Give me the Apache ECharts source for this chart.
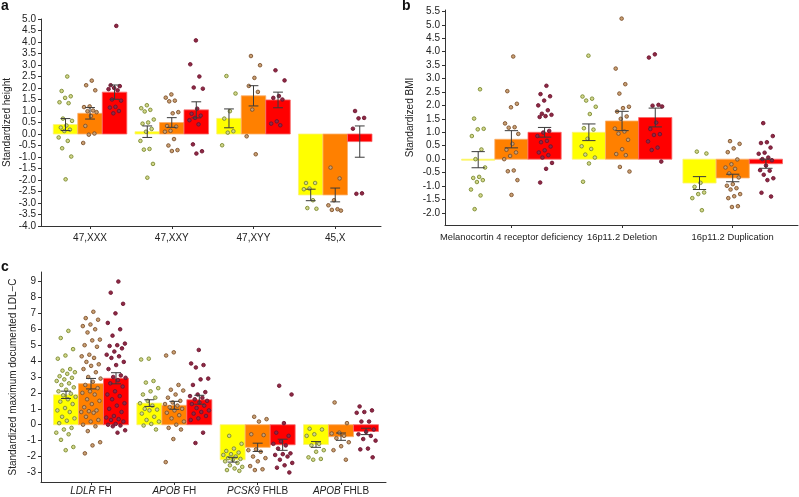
<!DOCTYPE html>
<html>
<head>
<meta charset="utf-8">
<script src="https://cdn.jsdelivr.net/npm/echarts@6/dist/echarts.min.js"></script>
<style>
  html, body { margin: 0; padding: 0; background: #fff; }
  #main { width: 799px; height: 497px; }
</style>
</head>
<body>
<div id="main"></div>
<script>
// ---- panel a : standardized height ----
var catsA = ['47,XXX', '47,XXY', '47,XYY', '45,X'];
var meanA_y = [0.41, 0.1, 0.68, -2.65];
var meanA_o = [0.9, 0.5, 1.66, -2.65];
var meanA_r = [1.82, 1.05, 1.48, -0.33];
var seA_y = [0.26, 0.25, 0.41, 0.25];
var seA_o = [0.25, 0.21, 0.44, 0.3];
var seA_r = [0.31, 0.35, 0.34, 0.68];
var ptsA_y = [
  [2.5, 1.87, 1.64, 1.57, 1.38, 1.34, 0.67, 0.57, 0.37, 0.28, 0.19, 0.13, -0.15, -0.3, -0.62, -0.98, -1.97],
  [1.25, 1.12, 1.05, 0.98, 0.63, 0.5, 0.45, 0.22, 0.1, -0.3, -0.65, -0.68, -1.3, -1.9],
  [2.52, 1.76, 0.99, 0.67, 0.12, 0.06, -0.49],
  [-2.13, -2.13, -2.37, -2.4, -2.88, -3.22, -3.25]
];
var ptsA_o = [
  [2.32, 2.12, 1.9, 1.2, 1.17, 1.02, 0.99, 0.95, 0.78, 0.35, 0.02, -0.03, -0.39],
  [1.72, 1.58, 1.45, 1.42, 0.95, 0.9, 0.35, 0.32, 0.14, 0.1, -0.22, -0.5, -0.7, -0.74],
  [3.39, 2.99, 2.44, 2.09, 1.83, 1.06, -0.1, -0.88],
  [-1.46, -1.93, -2.88, -3.1, -3.27, -3.3, -3.33]
];
var ptsA_r = [
  [4.7, 2.12, 2.08, 2.0, 1.95, 1.9, 1.5, 1.45, 1.18, 1.15, 1.0, 0.9],
  [4.07, 3.03, 2.5, 2.02, 1.97, 1.1, 0.88, 0.8, 0.7, 0.6, 0.42, -0.45, -0.75, -0.85],
  [2.77, 2.33, 1.65, 1.57, 1.5, 0.55, 0.45, 0.38],
  [1.0, 0.7, 0.68, 0.23, -2.58, -2.6]
];
var yTicksA = [-4.0, -3.5, -3.0, -2.5, -2.0, -1.5, -1.0, -0.5, 0.0, 0.5, 1.0, 1.5, 2.0, 2.5, 3.0, 3.5, 4.0, 4.5, 5.0];

// ---- panel b : standardized BMI ----
var catsB = ['Melanocortin 4 receptor deficiency', '16p11.2 Deletion', '16p11.2 Duplication'];
var meanB_y = [-0.02, 1.0, -0.89];
var meanB_o = [0.74, 1.42, -0.7];
var meanB_r = [1.0, 1.55, -0.17];
var seB_y = [0.3, 0.31, 0.24];
var seB_o = [0.32, 0.36, 0.14];
var seB_r = [0.18, 0.35, 0.17];
var ptsB_y = [
  [2.6, 1.51, 1.13, 1.11, 0.86, 0.36, 0.0, -0.31, -0.66, -0.7, -0.78, -0.85, -1.13, -1.35, -1.86],
  [3.85, 2.33, 2.25, 2.18, 1.95, 1.68, 1.15, 1.1, 0.76, 0.48, 0.38, 0.17, 0.06, -0.16, -0.84],
  [0.28, 0.21, -0.88, -1.03, -1.24, -1.3, -1.45, -1.9]
];
var ptsB_o = [
  [3.82, 2.53, 2.06, 1.93, 1.33, 1.19, 1.17, 0.94, 0.57, 0.35, 0.25, 0.12, 0.0, -0.42, -0.45, -0.78, -1.33],
  [5.23, 3.37, 2.79, 2.44, 1.95, 1.9, 1.77, 1.59, 1.5, 1.14, 1.03, 0.95, 0.72, 0.37, 0.19, 0.15, -0.29, -0.46],
  [0.67, 0.57, 0.4, 0.26, -0.01, -0.19, -0.31, -0.36, -0.53, -0.68, -0.93, -0.99, -1.08, -1.13, -1.3, -1.38, -1.45, -1.75, -1.78]
];
var ptsB_r = [
  [2.73, 2.42, 2.34, 2.18, 2.0, 1.82, 1.69, 1.65, 1.6, 1.57, 1.05, 0.99, 0.86, 0.68, 0.63, 0.47, 0.33, 0.25, 0.15, 0.06, -0.14, -0.36, -0.87],
  [3.9, 3.78, 2.02, 1.99, 1.96, 1.36, 1.12, 0.93, 0.9, 0.66, 0.43, 0.34, -0.09],
  [1.34, 0.86, 0.63, 0.6, 0.43, 0.24, 0.2, 0.06, 0.0, -0.04, -0.24, -0.41, -0.43, -0.58, -0.71, -0.78, -1.25, -1.39]
];
var yTicksB = [-2.0, -1.5, -1.0, -0.5, 0.0, 0.5, 1.0, 1.5, 2.0, 2.5, 3.0, 3.5, 4.0, 4.5, 5.0, 5.5];

// ---- panel c : standardized max LDL-C ----
var genesC = ['LDLR', 'APOB', 'PCSK9', 'APOB'];
var typesC = ['FH', 'FH', 'FHLB', 'FHLB'];
var meanC_y = [1.88, 1.36, -2.2, -1.24];
var meanC_o = [2.58, 1.22, -1.42, -0.75];
var meanC_r = [2.92, 1.57, -1.26, -0.42];
var seC_y = [0.23, 0.21, 0.15, 0.18];
var seC_o = [0.33, 0.25, 0.26, 0.23];
var seC_r = [0.35, 0.28, 0.35, 0.2];
var ptsC_y = [
  [5.9, 5.45, 4.75, 4.35, 4.15, 3.5, 3.4, 3.3, 3.2, 3.05, 2.95, 2.85, 2.75, 2.6, 2.5, 2.35, 2.2, 2.1, 1.95, 1.85, 1.75, 1.6, 1.45, 1.3, 1.05, 0.9, 0.8, 0.5, 0.4, 0.25, 0.1, -0.2, -0.3, -0.5, -0.6, -0.95, -1.4, -1.6],
  [4.15, 4.1, 2.75, 2.65, 2.3, 2.1, 1.9, 1.7, 1.5, 1.35, 1.2, 1.0, 0.95, 0.9, 0.7, 0.5, 0.3, 0.2, 0.05, -0.05, -0.3],
  [-0.7, -1.2, -1.5, -1.65, -1.75, -1.85, -1.9, -2.0, -2.1, -2.15, -2.2, -2.3, -2.4, -2.55, -2.65, -2.75, -2.85, -2.9],
  [-0.25, -0.3, -0.6, -0.7, -1.2, -1.3, -1.6, -1.7, -2.05, -2.15, -2.2]
];
var ptsC_o = [
  [7.1, 6.7, 6.6, 6.3, 6.2, 6.0, 5.8, 5.35, 5.3, 5.0, 4.9, 4.4, 4.3, 4.2, 3.95, 3.8, 3.7, 3.5, 3.3, 3.0, 2.9, 2.7, 2.5, 2.3, 2.1, 2.0, 1.9, 1.6, 1.5, 1.3, 1.1, 0.9, 0.85, 0.8, 0.75, 0.5, 0.3, 0.2, 0.0, -0.1, -0.4, -1.1, -1.3, -1.8],
  [4.55, 4.35, 2.5, 2.2, 2.15, 1.9, 1.7, 1.5, 1.4, 1.3, 1.2, 1.1, 1.0, 0.9, 0.75, 0.6, 0.4, 0.2, 0.0, -0.2, -0.3, -0.9, -2.35],
  [0.5, 0.35, 0.2, -0.6, -0.65, -1.55, -1.6, -1.7, -2.0, -2.1, -2.3, -2.6, -2.8, -2.85],
  [1.4, 0.1, -0.5, -0.55, -0.7, -0.85, -1.1, -1.35, -1.6, -2.2]
];
var ptsC_r = [
  [9.0, 8.3, 7.6, 7.0, 6.4, 6.0, 5.6, 5.1, 5.0, 4.95, 4.8, 4.6, 4.4, 4.3, 4.2, 3.95, 3.75, 3.5, 3.1, 3.0, 2.95, 2.8, 2.6, 2.4, 2.1, 1.9, 1.8, 1.6, 1.35, 1.2, 1.0, 0.8, 0.55, 0.45, 0.35, 0.3, 0.2, 0.05, 0.0, -0.05, -0.1, -0.35, -0.5],
  [4.7, 3.85, 3.75, 3.6, 2.9, 2.85, 2.5, 2.05, 1.9, 1.8, 1.7, 1.6, 1.5, 1.4, 1.3, 1.2, 1.05, 0.9, 0.8, 0.7, 0.55, 0.4, 0.3, -0.5, -1.15],
  [2.45, 1.9, 0.1, -0.5, -0.7, -1.05, -1.2, -1.3, -1.5, -1.8, -1.85, -1.9, -2.0, -2.2, -2.4, -2.55, -2.7, -3.0],
  [1.15, 0.9, 0.8, 0.75, 0.2, 0.2, -0.3, -0.45, -0.6, -0.7, -0.9, -1.0, -1.5, -1.55, -2.05]
];
var yTicksC = [-3, -2, -1, 0, 1, 2, 3, 4, 5, 6, 7, 8, 9];

var FONT = '"Liberation Sans", Arial, Helvetica, sans-serif';
var BAR_W = 0.3;
var CAP_W = 0.12;
var barColors = ['#ffff00', '#ff8000', '#ff0000'];
var barEdges = ['#fbf27a', '#fbae6a', '#f86a6a'];
var ptFill = ['#d2d68a', '#c9a073', '#8e2a44'];
var ptEdge = ['#7b8a30', '#7e512c', '#6e1430'];

var chart = echarts.init(document.getElementById('main'));

function renderBar(params, api) {
  var g = api.value(1);
  var x = api.value(0) + (g - 1) * BAR_W;
  var p0 = api.coord([x, 0]);
  var p1 = api.coord([x, api.value(2)]);
  var w = api.size([BAR_W, 0])[0];
  var h = Math.max(Math.abs(p1[1] - p0[1]), 1);
  return {
    type: 'rect',
    shape: { x: p0[0] - w / 2, y: Math.min(p0[1], p1[1]), width: w, height: h },
    style: { fill: barColors[g], stroke: barEdges[g], lineWidth: 0.8 }
  };
}

function ln(x1, y1, x2, y2) {
  return { type: 'line', shape: { x1: x1, y1: y1, x2: x2, y2: y2 }, style: { stroke: '#3a3a3a', lineWidth: 1 } };
}

function renderErr(params, api) {
  var x = api.value(0) + (api.value(1) - 1) * BAR_W;
  var m = api.value(2), s = api.value(3);
  var hi = api.coord([x, m + s]);
  var lo = api.coord([x, m - s]);
  var cw = api.size([CAP_W, 0])[0] / 2;
  return {
    type: 'group',
    children: [
      ln(hi[0], hi[1], lo[0], lo[1]),
      ln(hi[0] - cw, hi[1], hi[0] + cw, hi[1]),
      ln(lo[0] - cw, lo[1], lo[0] + cw, lo[1])
    ]
  };
}

var series = [];
function addPanel(idx, means, ses, pts, jit) {
  var barData = [], errData = [];
  for (var g = 0; g < 3; g++) {
    for (var c = 0; c < means[g].length; c++) {
      barData.push([c + 1, g, means[g][c]]);
      errData.push([c + 1, g, means[g][c], ses[g][c]]);
    }
  }
  series.push({
    type: 'custom', xAxisIndex: idx, yAxisIndex: idx, renderItem: renderBar,
    data: barData, silent: true, z: 2
  });
  for (var g2 = 0; g2 < 3; g2++) {
    var sd = [];
    pts[g2].forEach(function (list, c) {
      list.forEach(function (v, i) {
        // deterministic horizontal spread around the bar centre
        var off = (((i + c * 3 + 1) * 0.6180339) % 1 - 0.5) * 2 * jit;
        sd.push([c + 1 + (g2 - 1) * BAR_W + off, v]);
      });
    });
    series.push({
      type: 'scatter', xAxisIndex: idx, yAxisIndex: idx, data: sd, symbol: 'circle', symbolSize: 3.6,
      itemStyle: { color: ptFill[g2], borderColor: ptEdge[g2], borderWidth: 0.9, opacity: 1 },
      silent: true, z: 3
    });
  }
  series.push({
    type: 'custom', xAxisIndex: idx, yAxisIndex: idx, renderItem: renderErr,
    data: errData, silent: true, z: 4
  });
}

addPanel(0, [meanA_y, meanA_o, meanA_r], [seA_y, seA_o, seA_r], [ptsA_y, ptsA_o, ptsA_r], 0.09);
addPanel(1, [meanB_y, meanB_o, meanB_r], [seB_y, seB_o, seB_r], [ptsB_y, ptsB_o, ptsB_r], 0.07);
addPanel(2, [meanC_y, meanC_o, meanC_r], [seC_y, seC_o, seC_r], [ptsC_y, ptsC_o, ptsC_r], 0.12);

function xAx(idx, n, max, labelFn, margin, fs) {
  var vals = [];
  for (var i = 1; i <= n; i++) vals.push(i);
  return {
    type: 'value', gridIndex: idx, min: 0.4, max: max,
    axisLine: { show: true, onZero: false, lineStyle: { color: '#333', width: 1 } },
    axisTick: { show: true, customValues: vals, length: 3, lineStyle: { color: '#333' } },
    axisLabel: {
      customValues: vals, margin: margin, color: '#222', fontSize: fs, fontFamily: FONT,
      hideOverlap: false, showMinLabel: true, showMaxLabel: true,
      formatter: labelFn,
      rich: { i: { fontStyle: 'italic', fontSize: fs, fontFamily: FONT, color: '#222' } }
    },
    splitLine: { show: false }
  };
}

function yAx(idx, min, max, ticks, name, gap, dec) {
  return {
    type: 'value', gridIndex: idx, min: min, max: max,
    name: name, nameLocation: 'middle', nameGap: gap,
    nameTextStyle: { fontSize: 10, color: '#222', fontFamily: FONT },
    axisLine: { show: true, onZero: false, lineStyle: { color: '#333', width: 1 } },
    axisTick: { show: true, customValues: ticks, length: 3, lineStyle: { color: '#333' } },
    axisLabel: {
      customValues: ticks, margin: 5, color: '#222', fontSize: 10, fontFamily: FONT,
      showMinLabel: true, showMaxLabel: true,
      formatter: function (v) { return v.toFixed(dec); }
    },
    splitLine: { show: false }
  };
}

chart.setOption({
  animation: false,
  backgroundColor: '#fff',
  title: [
    { text: 'a', left: 1, top: -1, padding: 0, textStyle: { fontSize: 14, fontWeight: 'bold', color: '#111', fontFamily: FONT } },
    { text: 'b', left: 402, top: -1, padding: 0, textStyle: { fontSize: 14, fontWeight: 'bold', color: '#111', fontFamily: FONT } },
    { text: 'c', left: 1, top: 260, padding: 0, textStyle: { fontSize: 14, fontWeight: 'bold', color: '#111', fontFamily: FONT } }
  ],
  grid: [
    { left: 41, top: 19, width: 340, height: 207 },
    { left: 445, top: 10, width: 353, height: 215 },
    { left: 41, top: 272, width: 345, height: 210 }
  ],
  xAxis: [
    xAx(0, 4, 4.56, function (v) { return catsA[Math.round(v) - 1]; }, 7, 10),
    xAx(1, 3, 3.59, function (v) { return catsB[Math.round(v) - 1]; }, 8, 9.4),
    xAx(2, 4, 4.54, function (v) {
      var k = Math.round(v) - 1;
      return '{i|' + genesC[k] + '} ' + typesC[k];
    }, 4, 10)
  ],
  yAxis: [
    yAx(0, -4, 5, yTicksA, 'Standardized height', 29, 1),
    yAx(1, -2.45, 5.55, yTicksB, 'Standardized BMI', 30, 1),
    yAx(2, -3.6, 9.6, yTicksC, 'Standardized maximum documented LDL\u2212C', 23, 0)
  ],
  series: series
});
</script>
</body>
</html>
